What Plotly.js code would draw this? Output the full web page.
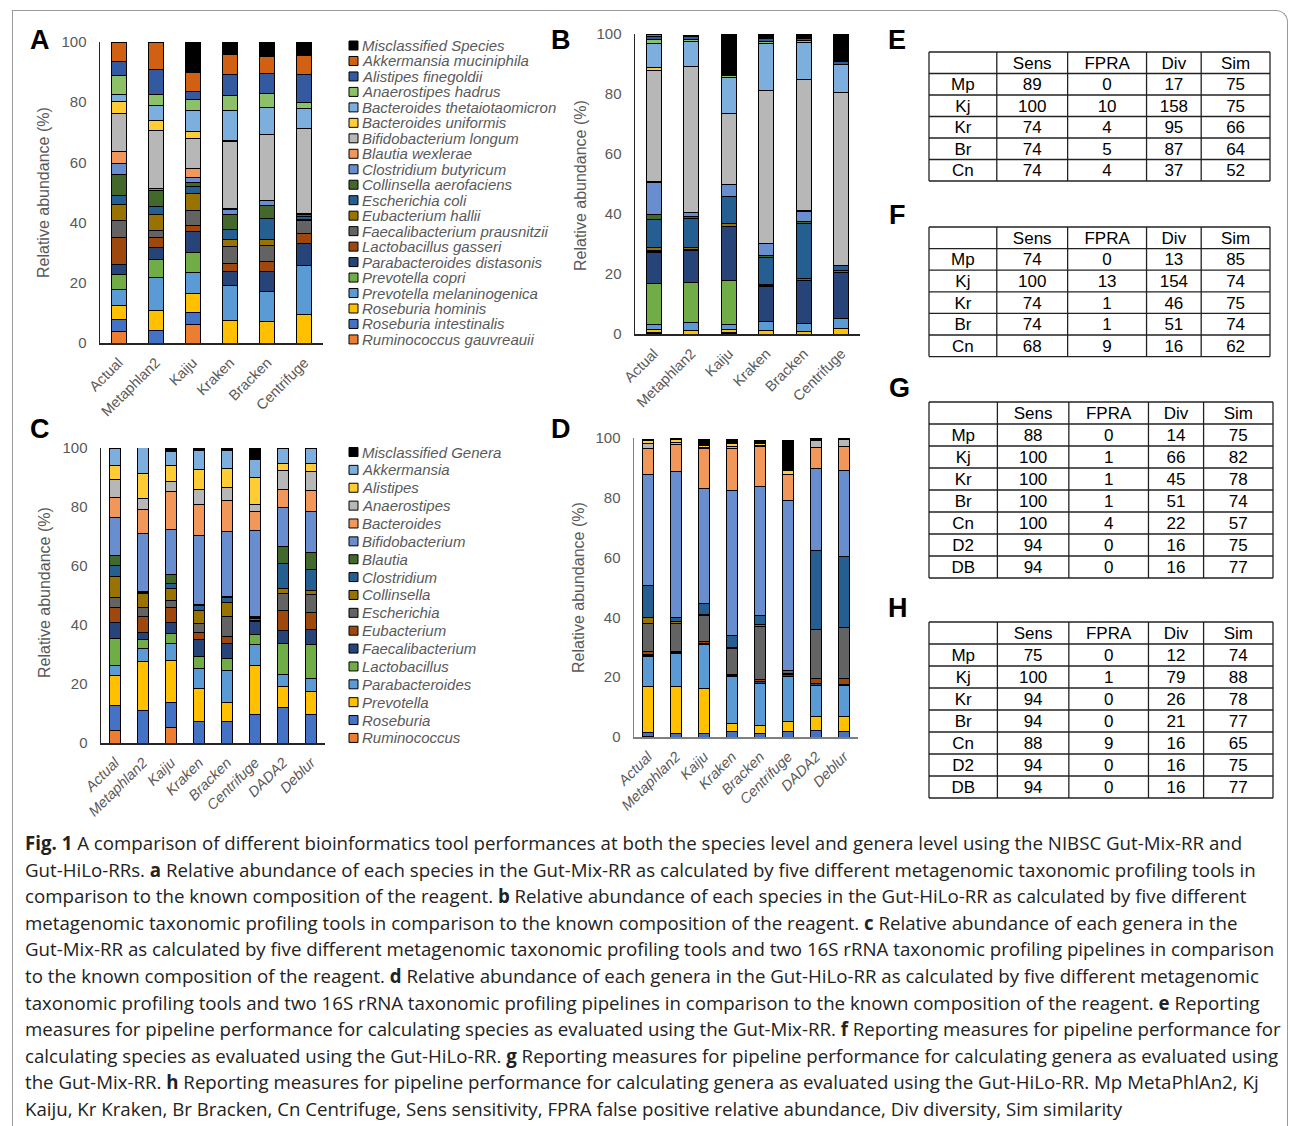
<!DOCTYPE html>
<html><head><meta charset="utf-8">
<script src="https://cdn.plot.ly/plotly-3.0.1.min.js"></script>
<style>
body{margin:0;background:#fff;width:1290px;height:1126px;overflow:hidden;position:relative;font-family:"Liberation Sans",Arial,sans-serif}
#frame{position:absolute;left:12px;top:10px;width:1276px;height:1140px;border:1px solid #9a9a9a;border-bottom:none;border-top-right-radius:12px;box-sizing:border-box}
#fig{position:absolute;left:0;top:0;width:1290px;height:830px}
#cap{position:absolute;left:25px;top:830px;font-family:"Open Sans",sans-serif;font-size:18px;line-height:26.6px;color:#222;white-space:nowrap}
#cap b{font-weight:700}
</style></head><body>
<div id="frame"></div>
<div id="fig"></div>
<div id="cap">
<span id="l1"><b>Fig. 1</b> A comparison of different bioinformatics tool performances at both the species level and genera level using the NIBSC Gut-Mix-RR and</span><br>
Gut-HiLo-RRs. <b>a</b> Relative abundance of each species in the Gut-Mix-RR as calculated by five different metagenomic taxonomic profiling tools in<br>
comparison to the known composition of the reagent. <b>b</b> Relative abundance of each species in the Gut-HiLo-RR as calculated by five different<br>
metagenomic taxonomic profiling tools in comparison to the known composition of the reagent. <b>c</b> Relative abundance of each genera in the<br>
Gut-Mix-RR as calculated by five different metagenomic taxonomic profiling tools and two 16S rRNA taxonomic profiling pipelines in comparison<br>
to the known composition of the reagent. <b>d</b> Relative abundance of each genera in the Gut-HiLo-RR as calculated by five different metagenomic<br>
taxonomic profiling tools and two 16S rRNA taxonomic profiling pipelines in comparison to the known composition of the reagent. <b>e</b> Reporting<br>
measures for pipeline performance for calculating species as evaluated using the Gut-Mix-RR. <b>f</b> Reporting measures for pipeline performance for<br>
calculating species as evaluated using the Gut-HiLo-RR. <b>g</b> Reporting measures for pipeline performance for calculating genera as evaluated using<br>
the Gut-Mix-RR. <b>h</b> Reporting measures for pipeline performance for calculating genera as evaluated using the Gut-HiLo-RR. Mp MetaPhlAn2, Kj<br>
Kaiju, Kr Kraken, Br Bracken, Cn Centrifuge, Sens sensitivity, FPRA false positive relative abundance, Div diversity, Sim similarity
</div>
<script>
// ---------- categories ----------
const tools6 = ['Actual','Metaphlan2','Kaiju','Kraken','Bracken','Centrifuge'];
const tools8 = ['Actual','Metaphlan2','Kaiju','Kraken','Bracken','Centrifuge','DADA2','Deblur'];

const speciesNames = ['Misclassified Species','Akkermansia muciniphila','Alistipes finegoldii','Anaerostipes hadrus',
 'Bacteroides thetaiotaomicron','Bacteroides uniformis','Bifidobacterium longum','Blautia wexlerae',
 'Clostridium butyricum','Collinsella aerofaciens','Escherichia coli','Eubacterium hallii',
 'Faecalibacterium prausnitzii','Lactobacillus gasseri','Parabacteroides distasonis','Prevotella copri',
 'Prevotella melaninogenica','Roseburia hominis','Roseburia intestinalis','Ruminococcus gauvreauii'];
const genusNames = ['Misclassified Genera','Akkermansia','Alistipes','Anaerostipes','Bacteroides','Bifidobacterium',
 'Blautia','Clostridium','Collinsella','Escherichia','Eubacterium','Faecalibacterium','Lactobacillus',
 'Parabacteroides','Prevotella','Roseburia','Ruminococcus'];

// ---------- Panel A: species, Gut-Mix-RR (order = tools6) ----------
const A_Misclassified   = [0, 0, 10.1, 4.2, 4.8, 4.4];
const A_Akkermansia     = [6.5, 9.2, 6.3, 6.7, 5.7, 6.5];
const A_Alistipes       = [4.7, 8.1, 2.8, 7.1, 6.7, 9.1];
const A_Anaerostipes    = [6.1, 3.9, 3.7, 4.8, 4.7, 2.1];
const A_BThetaiota      = [2.5, 4.8, 6.9, 10.0, 8.9, 6.5];
const A_BUniformis      = [3.8, 3.5, 2.3, 0.3, 0, 0];
const A_Bifidobacterium = [12.8, 19.1, 9.9, 22.5, 21.8, 28.5];
const A_Blautia         = [4.0, 0, 3.0, 0.3, 0, 0];
const A_Clostridium     = [3.5, 0.8, 1.6, 1.7, 1.7, 0.3];
const A_Collinsella     = [6.9, 5.2, 1.4, 4.9, 4.2, 0.6];
const A_Escherichia     = [3.1, 2.8, 2.4, 3.4, 7.2, 1.0];
const A_Eubacterium     = [5.4, 5.1, 5.6, 2.2, 2.0, 0.4];
const A_Faecalibact     = [5.6, 2.6, 4.9, 5.7, 5.2, 4.3];
const A_Lactobacillus   = [9.0, 3.3, 2.1, 2.7, 3.3, 3.4];
const A_Parabacteroides = [3.3, 3.9, 6.9, 4.7, 6.6, 7.1];
const A_PCopri          = [4.9, 6.1, 6.8, 0, 0, 0];
const A_PMelanino       = [5.4, 10.9, 7.0, 11.5, 10.1, 16.4];
const A_RHominis        = [4.65, 6.6, 6.3, 7.5, 7.1, 9.4];
const A_RIntestinalis   = [4.1, 4.1, 3.9, 0, 0, 0];
const A_Ruminococcus    = [3.7, 0, 6.1, 0, 0, 0];

// ---------- Panel B: species, Gut-HiLo-RR (order = tools6) ----------
const B_Misclassified   = [0, 0, 13.7, 1.5, 1.3, 9.0];
const B_Akkermansia     = [0.5, 0.3, 0, 0, 0, 0];
const B_Alistipes       = [1.0, 1.0, 0, 0.8, 0.8, 1.3];
const B_Anaerostipes    = [1.4, 0.6, 0.8, 0.8, 0.5, 0];
const B_BThetaiota      = [8.2, 8.4, 11.9, 15.6, 12.6, 9.2];
const B_BUniformis      = [0.8, 0, 0, 0, 0, 0];
const B_Bifidobacterium = [37.0, 48.8, 23.8, 51.0, 43.5, 57.5];
const B_Blautia         = [0.3, 0, 0, 0, 0.5, 0];
const B_Clostridium     = [10.7, 1.3, 3.9, 3.9, 3.1, 0];
const B_Collinsella     = [1.8, 0.7, 0, 0.8, 0.8, 0];
const B_Escherichia     = [9.4, 9.4, 9.0, 8.9, 18.4, 1.9];
const B_Eubacterium     = [0.9, 0.8, 0.9, 0, 0, 0];
const B_Faecalibact     = [0.3, 0.3, 0.3, 0.5, 0.5, 0.5];
const B_Lactobacillus   = [0.3, 0, 0, 0.3, 0, 0];
const B_Parabacteroides = [10.2, 10.7, 17.8, 11.5, 14.4, 15.3];
const B_PCopri          = [13.9, 13.3, 14.7, 0.2, 0, 0];
const B_PMelanino       = [1.5, 2.8, 1.6, 3.0, 2.6, 3.6];
const B_RHominis        = [1.0, 1.1, 1.0, 1.1, 0.9, 1.7];
const B_RIntestinalis   = [0.3, 0, 0.3, 0, 0, 0];
const B_Ruminococcus    = [0.3, 0, 0.3, 0, 0, 0];

// ---------- Panel C: genera, Gut-Mix-RR (order = tools8) ----------
const C_Misclassified   = [0, 0, 1.1, 0.9, 0.9, 3.6, 0, 0];
const C_Akkermansia     = [6.0, 8.8, 4.9, 6.2, 5.9, 6.2, 5.1, 5.1];
const C_Alistipes       = [4.7, 8.4, 5.3, 7.0, 6.5, 9.1, 2.5, 2.8];
const C_Anaerostipes    = [6.2, 3.7, 3.4, 4.8, 4.6, 2.3, 6.5, 6.6];
const C_Bacteroides     = [6.5, 8.3, 12.8, 10.8, 10.3, 6.5, 6.2, 7.0];
const C_Bifidobacterium = [12.9, 19.6, 15.4, 23.2, 22.3, 29.1, 13.0, 13.9];
const C_Blautia         = [3.6, 0.3, 2.9, 0.3, 0.3, 0, 6.0, 5.8];
const C_Clostridium     = [3.6, 0.3, 1.7, 1.8, 1.7, 0.5, 8.4, 7.2];
const C_Collinsella     = [7.1, 5.0, 4.3, 4.4, 4.6, 0.4, 1.5, 1.1];
const C_Escherichia     = [3.3, 2.9, 2.4, 3.0, 6.7, 0.6, 5.8, 6.4];
const C_Eubacterium     = [5.2, 5.3, 4.8, 2.5, 2.5, 0.3, 6.8, 5.5];
const C_Faecalibact     = [5.5, 2.6, 3.9, 5.6, 5.1, 4.5, 4.6, 5.3];
const C_Lactobacillus   = [9.1, 3.1, 3.4, 4.0, 4.0, 3.4, 10.4, 11.6];
const C_Parabacteroides = [3.5, 4.2, 5.7, 7.0, 10.7, 7.1, 4.2, 4.4];
const C_Prevotella      = [10.1, 16.7, 14.1, 11.1, 6.6, 16.6, 6.8, 7.5];
const C_Roseburia       = [8.5, 11.0, 8.8, 7.3, 7.3, 9.6, 12.2, 9.8];
const C_Ruminococcus    = [4.2, 0, 5.1, 0, 0, 0, 0, 0];

// ---------- Panel D: genera, Gut-HiLo-RR (order = tools8) ----------
const D_Misclassified   = [0, 0, 2.0, 1.4, 1.0, 10.3, 0.9, 0.6];
const D_Akkermansia     = [0.5, 0.4, 0, 0, 0, 0, 0, 0];
const D_Alistipes       = [0.9, 0.9, 0.7, 0.8, 0.6, 1.2, 0, 0];
const D_Anaerostipes    = [1.7, 0.8, 0.4, 0.6, 0.5, 0, 2.2, 2.2];
const D_Bacteroides     = [8.6, 9.0, 13.4, 14.2, 13.2, 8.6, 7.0, 8.1];
const D_Bifidobacterium = [37.2, 48.8, 38.3, 48.4, 43.0, 56.8, 27.3, 28.8];
const D_Blautia         = [0, 0, 0, 0, 0, 0, 0, 0];
const D_Clostridium     = [10.6, 1.5, 3.7, 3.9, 3.3, 0, 26.5, 23.8];
const D_Collinsella     = [2.0, 0.7, 0.6, 0.4, 0.4, 0, 0, 0];
const D_Escherichia     = [9.4, 9.2, 8.5, 8.7, 18.0, 1.2, 16.3, 17.2];
const D_Eubacterium     = [0.9, 0.5, 0.8, 0.4, 0.4, 0.3, 1.9, 1.7];
const D_Faecalibact     = [0.4, 0.3, 0.4, 0.5, 0.7, 0.8, 0.5, 0.6];
const D_Lactobacillus   = [0.3, 0, 0, 0, 0, 0, 0, 0];
const D_Parabacteroides = [10.0, 10.9, 14.7, 15.6, 14.0, 14.8, 10.3, 10.2];
const D_Prevotella      = [15.5, 15.7, 14.9, 2.8, 2.8, 3.6, 4.8, 5.2];
const D_Roseburia       = [1.3, 1.2, 1.2, 1.7, 1.2, 1.7, 2.2, 1.7];
const D_Ruminococcus    = [0.2, 0, 0, 0, 0, 0, 0, 0];

// ---------- Tables E-H ----------
const tblHeader = ['', 'Sens', 'FPRA', 'Div', 'Sim'];
const rows5 = ['Mp','Kj','Kr','Br','Cn'];
const rows7 = ['Mp','Kj','Kr','Br','Cn','D2','DB'];
const E_Sens = [89,100,74,74,74];   const E_FPRA = [0,10,4,5,4];   const E_Div = [17,158,95,87,37];  const E_Sim = [75,75,66,64,52];
const F_Sens = [74,100,74,74,68];   const F_FPRA = [0,13,1,1,9];   const F_Div = [13,154,46,51,16];  const F_Sim = [85,74,75,74,62];
const G_Sens = [88,100,100,100,100,94,94]; const G_FPRA = [0,1,1,1,4,0,0]; const G_Div = [14,66,45,51,22,16,16]; const G_Sim = [75,82,78,74,57,75,77];
const H_Sens = [75,100,94,94,88,94,94];    const H_FPRA = [0,1,0,0,9,0,0]; const H_Div = [12,79,26,21,16,16,16]; const H_Sim = [74,88,78,77,65,75,77];

// ---------- styles ----------
const speciesColors = ['#000000','#D26012','#335AA1','#8CC168','#7CAFDD','#FFCD33','#B7B7B7','#F1975A',
 '#698ED0','#43682B','#255E91','#997300','#636363','#9E480E','#264478','#70AD47','#5B9BD5','#FFC000','#4472C4','#ED7D31'];
const genusColors = ['#000000','#7CAFDD','#FFCD33','#B7B7B7','#F1975A','#698ED0','#43682B','#255E91','#997300',
 '#636363','#9E480E','#264478','#70AD47','#5B9BD5','#FFC000','#4472C4','#ED7D31'];

const panelA = [A_Misclassified,A_Akkermansia,A_Alistipes,A_Anaerostipes,A_BThetaiota,A_BUniformis,A_Bifidobacterium,A_Blautia,A_Clostridium,A_Collinsella,A_Escherichia,A_Eubacterium,A_Faecalibact,A_Lactobacillus,A_Parabacteroides,A_PCopri,A_PMelanino,A_RHominis,A_RIntestinalis,A_Ruminococcus];
const panelB = [B_Misclassified,B_Akkermansia,B_Alistipes,B_Anaerostipes,B_BThetaiota,B_BUniformis,B_Bifidobacterium,B_Blautia,B_Clostridium,B_Collinsella,B_Escherichia,B_Eubacterium,B_Faecalibact,B_Lactobacillus,B_Parabacteroides,B_PCopri,B_PMelanino,B_RHominis,B_RIntestinalis,B_Ruminococcus];
const panelC = [C_Misclassified,C_Akkermansia,C_Alistipes,C_Anaerostipes,C_Bacteroides,C_Bifidobacterium,C_Blautia,C_Clostridium,C_Collinsella,C_Escherichia,C_Eubacterium,C_Faecalibact,C_Lactobacillus,C_Parabacteroides,C_Prevotella,C_Roseburia,C_Ruminococcus];
const panelD = [D_Misclassified,D_Akkermansia,D_Alistipes,D_Anaerostipes,D_Bacteroides,D_Bifidobacterium,D_Blautia,D_Clostridium,D_Collinsella,D_Escherichia,D_Eubacterium,D_Faecalibact,D_Lactobacillus,D_Parabacteroides,D_Prevotella,D_Roseburia,D_Ruminococcus];

const W = 1290, H = 830;
const px = x => x / W, py = y => 1 - y / H;
const FONT = '"Liberation Sans", Arial, sans-serif';
const GREY = '#595959';

const traces = [];
const annotations = [], shapes = [];

function addPanel(series, names, colors, cats, ax) {
  for (let i = series.length - 1; i >= 0; i--) {
    traces.push({
      type: 'bar', x: cats, y: series[i].map(v => v > 0 ? v : null),
      name: names[i], xaxis: 'x' + ax, yaxis: 'y' + ax,
      marker: {color: colors[i], line: {color: '#000', width: 1}},
      showlegend: false, hoverinfo: 'skip'
    });
  }
}
addPanel(panelA, speciesNames, speciesColors, tools6, '');
addPanel(panelB, speciesNames, speciesColors, tools6, '2');
addPanel(panelC, genusNames, genusColors, tools8, '3');
addPanel(panelD, genusNames, genusColors, tools8, '4');

// tables: Plotly table trace for the text, grid drawn as shapes so text can sit centred
const COLW = [67, 70, 78, 54, 68];
const TXT_SHIFT = 4;
function addTable(x0, x1, y0, rowH, rowNames, sens, fpra, div, sim) {
  const nRows = rowNames.length + 1;
  const y1 = y0 + nRows * rowH;
  traces.push({
    type: 'table', domain: {x: [px(x0), px(x1)], y: [py(y1 + 3 - TXT_SHIFT), py(y0 - TXT_SHIFT)]},
    columnwidth: COLW,
    header: {values: tblHeader, height: rowH, align: 'center',
      line: {color: 'rgba(0,0,0,0)', width: 0}, fill: {color: 'rgba(0,0,0,0)'},
      font: {family: FONT, size: 17, color: '#000'}},
    cells: {values: [rowNames, sens, fpra, div, sim], height: rowH, align: 'center',
      line: {color: 'rgba(0,0,0,0)', width: 0}, fill: {color: 'rgba(0,0,0,0)'},
      font: {family: FONT, size: 17, color: '#000'}}
  });
  const tot = COLW.reduce((a, b) => a + b, 0);
  const lineStyle = {color: '#222', width: 1.3};
  for (let r = 0; r <= nRows; r++) {
    const y = y0 + r * rowH;
    shapes.push({type: 'line', xref: 'paper', yref: 'paper', x0: px(x0), x1: px(x1), y0: py(y), y1: py(y), line: lineStyle});
  }
  let acc = 0;
  for (let c = 0; c <= COLW.length; c++) {
    const x = x0 + (x1 - x0) * acc / tot;
    shapes.push({type: 'line', xref: 'paper', yref: 'paper', x0: px(x), x1: px(x), y0: py(y0), y1: py(y1), line: lineStyle});
    if (c < COLW.length) acc += COLW[c];
  }
}
addTable(929, 1270, 52, 21.5, rows5, E_Sens, E_FPRA, E_Div, E_Sim);
addTable(929, 1270, 227, 21.6, rows5, F_Sens, F_FPRA, F_Div, F_Sim);
addTable(929, 1273, 402, 22, rows7, G_Sens, G_FPRA, G_Div, G_Sim);
addTable(929, 1273, 622, 22, rows7, H_Sens, H_FPRA, H_Div, H_Sim);

function xax(x0, x1, italic, lc) {
  return {domain: [px(x0), px(x1)], showline: true, linecolor: lc, linewidth: 1.5, ticks: '',
    tickangle: -45, tickfont: {family: FONT, size: 14.5, color: GREY, style: italic ? 'italic' : 'normal'},
    showgrid: false, zeroline: false, fixedrange: true, ticklabelstandoff: 4};
}
function yax(y0, y1, lc) {
  return {domain: [py(y1), py(y0)], range: [0, 100], dtick: 20, showline: true, linecolor: lc, linewidth: 1.5,
    ticks: '', showgrid: false, zeroline: false, fixedrange: true, ticklabelstandoff: 9,
    tickfont: {family: FONT, size: 15, color: GREY}};
}

function letter(t, x, y) {
  annotations.push({xref: 'paper', yref: 'paper', x: px(x), y: py(y), text: '<b>' + t + '</b>', showarrow: false,
    xanchor: 'center', yanchor: 'middle', font: {family: FONT, size: 27, color: '#000'}});
}
letter('A', 40, 40); letter('B', 561, 40); letter('C', 40, 429); letter('D', 561, 429);
letter('E', 897, 40); letter('F', 897, 215); letter('G', 899, 388); letter('H', 898, 608);

function ytitle(x, y) {
  annotations.push({xref: 'paper', yref: 'paper', x: px(x), y: py(y), text: 'Relative abundance (%)', textangle: -90,
    showarrow: false, xanchor: 'center', yanchor: 'middle', font: {family: FONT, size: 16, color: GREY}});
}
ytitle(44, 193); ytitle(580, 186); ytitle(44, 593); ytitle(578, 588);

function legend(names, colors, x, yStart, step) {
  names.forEach((n, i) => {
    const yc = yStart + i * step;
    shapes.push({type: 'rect', xref: 'paper', yref: 'paper', x0: px(x), x1: px(x + 9), y0: py(yc + 4.5), y1: py(yc - 4.5),
      fillcolor: colors[i], line: {color: '#000', width: 1}});
    annotations.push({xref: 'paper', yref: 'paper', x: px(x + 11), y: py(yc), text: '<i>' + n + '</i>', showarrow: false,
      xanchor: 'left', yanchor: 'middle', font: {family: FONT, size: 15, color: GREY}});
  });
}
legend(speciesNames, speciesColors, 349, 45.5, 15.47);
legend(genusNames, genusColors, 349, 452, 17.87);

const layout = {
  width: W, height: H, margin: {l: 0, r: 0, t: 0, b: 0}, paper_bgcolor: 'rgba(0,0,0,0)', plot_bgcolor: 'rgba(0,0,0,0)',
  barmode: 'stack', bargap: 0.6, showlegend: false, font: {family: FONT},
  xaxis: xax(100, 323, false, '#262626'), yaxis: yax(42, 343, '#262626'),
  xaxis2: xax(635, 860, false, '#262626'), yaxis2: yax(34, 334, '#262626'),
  xaxis3: xax(101, 325, true, '#262626'), yaxis3: yax(448, 743, '#262626'),
  xaxis4: xax(634, 858, true, '#7f7f7f'), yaxis4: yax(438, 737, '#7f7f7f'),
  annotations: annotations, shapes: shapes
};
layout.xaxis.anchor = 'y'; layout.yaxis.anchor = 'x';
layout.xaxis2.anchor = 'y2'; layout.yaxis2.anchor = 'x2';
layout.xaxis3.anchor = 'y3'; layout.yaxis3.anchor = 'x3';
layout.xaxis4.anchor = 'y4'; layout.yaxis4.anchor = 'x4';

Plotly.newPlot('fig', traces, layout, {staticPlot: true, displayModeBar: false});

function fitCaption() {
  const cap = document.getElementById('cap');
  cap.style.fontSize = '18px';
  const w = document.getElementById('l1').getBoundingClientRect().width;
  if (w > 0) cap.style.fontSize = (18 * 1218 / w).toFixed(2) + 'px';
}
fitCaption();
if (document.fonts && document.fonts.ready) document.fonts.ready.then(fitCaption);
</script>
</body></html>
